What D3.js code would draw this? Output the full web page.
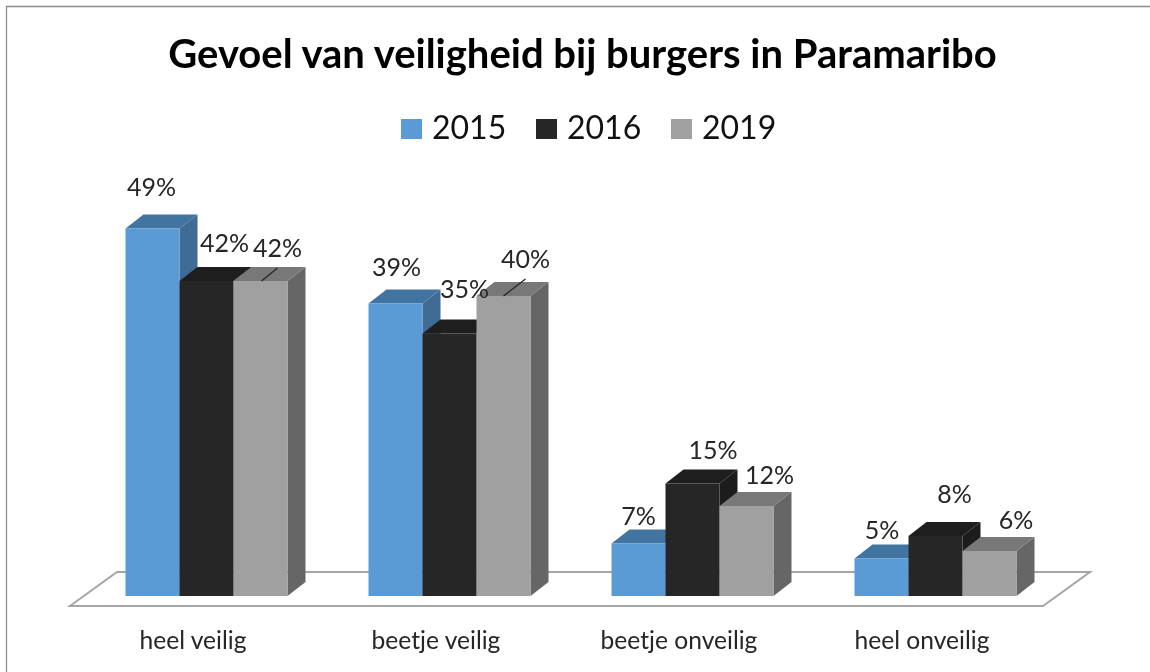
<!DOCTYPE html>
<html><head><meta charset="utf-8">
<script src="https://cdn.jsdelivr.net/npm/d3@7/dist/d3.min.js"></script>
<style>html,body{margin:0;padding:0;background:#fff}svg{display:block;filter:blur(0.4px)}text{font-family:Lato,"Open Sans",sans-serif}</style>
</head><body><svg id="c" width="1150" height="672"></svg>
<script>
const chartTitle = "Gevoel van veiligheid bij burgers in Paramaribo";
const categories = ["heel veilig", "beetje veilig", "beetje onveilig", "heel onveilig"];
const seriesNames = ["2015", "2016", "2019"];
const values2015 = [49, 39, 7, 5];
const values2016 = [42, 35, 15, 8];
const values2019 = [42, 40, 12, 6];
const seriesValues = [values2015, values2016, values2019];

const faceFill = ["#5b9bd5", "#262626", "#a0a0a0"];
const topFill = ["#4274a2", "#1e1e1e", "#787878"];
const sideFill = ["#3f6b94", "#1c1c1c", "#666666"];
const depthX = 18, depthY = -14;
// manual label placement of the original, [dx, dy] from each bar's top centre
const labelOffsets = [
  [[-1,-33],[18,-29],[17,-24]],
  [[1,-27.5],[15,-35.5],[22,-28]],
  [[0,-18.5],[20.5,-24.5],[23,-22]],
  [[0.5,-19.5],[19,-33],[26.5,-22]]
];
const svg = d3.select("#c");
const x0 = d3.scaleBand().domain(categories).range([125.5, 1016.5]).paddingInner(1/3).paddingOuter(0);
const x1 = d3.scaleBand().domain(seriesNames).range([0, x0.bandwidth()]);
const y = d3.scaleLinear().domain([0, 49]).range([596, 228.5]);

// frame
svg.append("path").attr("d", "M6.5,672V6.5H1150").attr("fill", "none").attr("stroke", "#8c8c8c").attr("stroke-width", 1.3);

// floor
const floorL = 70, floorR = 1043, floorF = 606, floorB = 572, floorD = 47;
svg.append("path").attr("d", d3.line()([[floorL,floorF],[floorL+floorD,floorB],[floorR+floorD,floorB],[floorR,floorF]]) + "Z")
  .attr("fill", "#fff").attr("stroke", "#a6a6a6").attr("stroke-width", 2);

// bars
categories.forEach((cat, ci) => {
  seriesNames.forEach((s, si) => {
    const v = seriesValues[si][ci];
    const xa = x0(cat) + x1(s), xb = xa + x1.bandwidth(), yt = y(v), yb = y(0);
    const g = svg.append("g");
    g.append("path").attr("d", d3.line()([[xb,yt],[xb+depthX,yt+depthY],[xb+depthX,yb+depthY],[xb,yb]]) + "Z").attr("fill", sideFill[si]);
    g.append("path").attr("d", d3.line()([[xa,yt],[xa+depthX,yt+depthY],[xb+depthX,yt+depthY],[xb,yt]]) + "Z").attr("fill", topFill[si]);
    g.append("rect").attr("x", xa).attr("y", yt).attr("width", xb-xa).attr("height", yb-yt).attr("fill", faceFill[si]);
  });
});

// leader lines
[[0,2],[1,2]].forEach(([ci, si]) => {
  const cx = x0(categories[ci]) + x1(seriesNames[si]) + x1.bandwidth()/2, yt = y(seriesValues[si][ci]);
  svg.append("line").attr("x1", cx + (ci?0:1)).attr("y1", yt)
    .attr("x2", cx + (ci?22:17)).attr("y2", yt + (ci?-17:-13)).attr("stroke", "#222").attr("stroke-width", 1.2);
});

// data labels
categories.forEach((cat, ci) => {
  seriesNames.forEach((s, si) => {
    const v = seriesValues[si][ci], o = labelOffsets[ci][si];
    svg.append("text").attr("x", x0(cat) + x1(s) + x1.bandwidth()/2 + o[0]).attr("y", y(v) + o[1])
      .attr("text-anchor", "middle").attr("font-size", 25).attr("fill", "#262626").text(v + "%");
  });
});

// category axis
const axis = svg.append("g").attr("transform", "translate(-13.5,631.5)").call(d3.axisBottom(x0).tickSize(0).tickPadding(0));
axis.select(".domain").remove();
axis.selectAll("text").attr("font-size", 24.6).attr("fill", "#262626").style("font-family", "Lato").attr("dy", "0.71em");

// title
svg.append("text").attr("x", 582.5).attr("y", 68).attr("text-anchor", "middle").attr("font-size", 40).attr("font-weight", 700).attr("fill", "#000").text(chartTitle);

// legend
const legX = d3.scaleOrdinal().domain(seriesNames).range([401, 536, 671]);
seriesNames.forEach((s, i) => {
  svg.append("rect").attr("x", legX(s)).attr("y", 119).attr("width", 21).attr("height", 20).attr("fill", faceFill[i]);
  svg.append("text").attr("x", legX(s) + 31).attr("y", 139).attr("font-size", 32).attr("fill", "#111").text(s);
});
</script></body></html>
